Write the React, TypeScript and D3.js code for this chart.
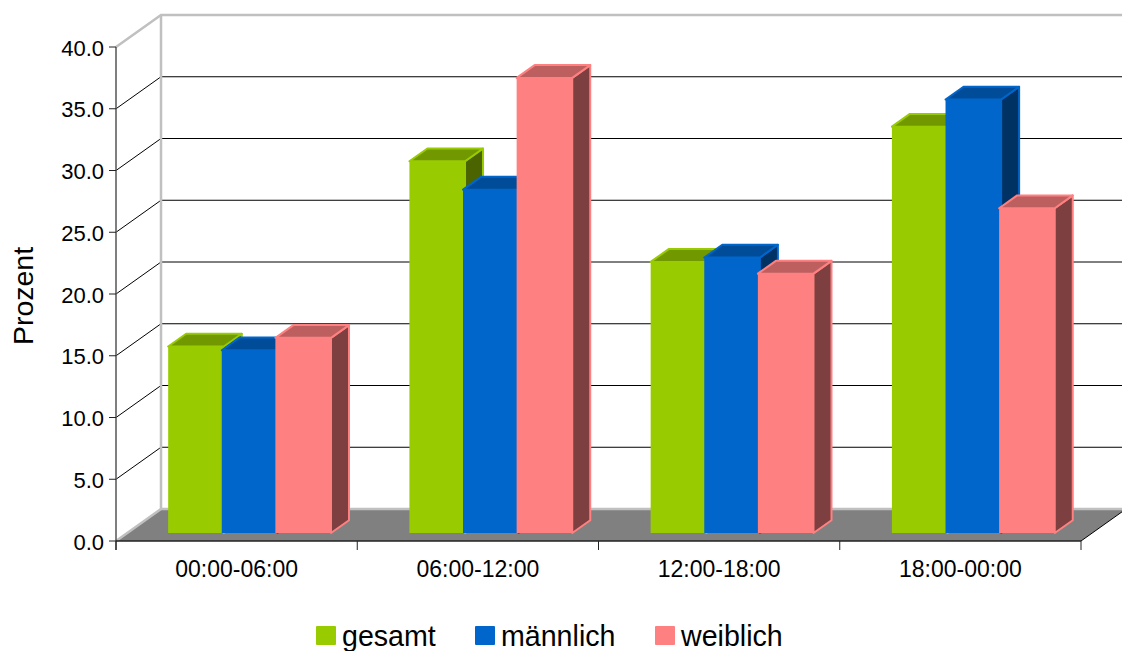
import React from "react";
import * as d3 from "d3";

const categories = ["00:00-06:00", "06:00-12:00", "12:00-18:00", "18:00-00:00"];
const seriesNames = ["gesamt", "männlich", "weiblich"];
const gesamt = [15.1, 30.1, 21.95, 32.9];
const maennlich = [14.8, 27.8, 22.3, 35.1];
const weiblich = [15.8, 36.85, 21.0, 26.3];
const seriesColors = ["#99cc00", "#0066cc", "#ff8080"];
const yTicks = [0, 5, 10, 15, 20, 25, 30, 35, 40];

const seriesValues = [gesamt, maennlich, weiblich];
const FONT = "'Liberation Sans', Arial, sans-serif";

// Oblique projection: depth 0 is the front plane, depth 1 the back wall.
const DEPTH_X = 45;
const DEPTH_Y = -32;
const BAR_NEAR = 0.25;
const BAR_FAR = 0.65;

export default function App() {
  const W = 1122;
  const H = 651;
  const y = d3.scaleLinear().domain([0, 40]).range([541, 47]);
  const x = d3.scaleBand().domain(categories).range([116, 1081]);
  const inner = d3
    .scaleBand()
    .domain(seriesNames)
    .range([0, x.bandwidth()])
    .paddingOuter(0.75)
    .paddingInner(0);

  const project = (px: number, value: number, depth: number): [number, number] => [
    px + DEPTH_X * depth,
    y(value) + DEPTH_Y * depth,
  ];
  const poly = (pts: [number, number][]) => pts.map((p) => p.join(",")).join(" ");

  const right = x.range()[1];
  const backRight = right + DEPTH_X;

  return (
    <svg
      width={W}
      height={H}
      style={{ position: "absolute", left: 0, top: 0, background: "#fff" }}
      fontFamily={FONT}
    >
      {/* floor */}
      <polygon
        points={poly([project(116, 0, 0), project(116, 0, 1), project(right, 0, 1), project(right, 0, 0)])}
        fill="#808080"
      />

      {/* gridlines across the side wall and back wall */}
      {yTicks.slice(1, -1).map((t) => (
        <g key={t} stroke="#000" strokeWidth={1} fill="none">
          <line x1={116} y1={y(t)} x2={116 + DEPTH_X} y2={y(t) + DEPTH_Y} />
          <line x1={116 + DEPTH_X} y1={y(t) + DEPTH_Y} x2={backRight} y2={y(t) + DEPTH_Y} />
        </g>
      ))}

      {/* wall frame */}
      <g stroke="#c0c0c0" strokeWidth={2.5} fill="none">
        <polyline points={poly([project(116, 40, 0), project(116, 40, 1), project(right, 40, 1)])} />
        <line x1={116 + DEPTH_X} y1={y(40) + DEPTH_Y} x2={116 + DEPTH_X} y2={y(0) + DEPTH_Y} />
        <line x1={116 + DEPTH_X} y1={y(0) + DEPTH_Y} x2={backRight} y2={y(0) + DEPTH_Y} />
        <line x1={116} y1={y(0)} x2={116 + DEPTH_X} y2={y(0) + DEPTH_Y} />
      </g>

      {/* bars */}
      {categories.map((c, ci) => (
        <g key={c}>
          {seriesNames.map((s, si) => {
            const v = seriesValues[si][ci];
            const x0 = x(c)! + inner(s)! + DEPTH_X * BAR_NEAR + 0.7;
            const x1 = x0 + inner.bandwidth() + 2;
            const base = d3.color(seriesColors[si])!;
            const topFill = d3.rgb(base).darker(0.83).formatHex();
            const sideFill = d3.rgb(base).darker(2).formatHex();
            const d = BAR_FAR - BAR_NEAR;
            const at = (px: number, val: number, dep: number) =>
              project(px, val, BAR_NEAR + dep * d);
            return (
              <g key={s} stroke={seriesColors[si]} strokeWidth={2} strokeLinejoin="round">
                <polygon
                  points={poly([
                    [x1, at(x1, v, 0)[1]],
                    [x1 + DEPTH_X * d, at(x1, v, 1)[1]],
                    [x1 + DEPTH_X * d, at(x1, 0, 1)[1]],
                    [x1, at(x1, 0, 0)[1]],
                  ])}
                  fill={sideFill}
                />
                <polygon
                  points={poly([
                    [x0, at(x0, v, 0)[1]],
                    [x0 + DEPTH_X * d, at(x0, v, 1)[1]],
                    [x1 + DEPTH_X * d, at(x1, v, 1)[1]],
                    [x1, at(x1, v, 0)[1]],
                  ])}
                  fill={topFill}
                />
                <rect
                  x={x0}
                  y={at(x0, v, 0)[1]}
                  width={x1 - x0}
                  height={at(x0, 0, 0)[1] - at(x0, v, 0)[1]}
                  fill={seriesColors[si]}
                  stroke="none"
                />
              </g>
            );
          })}
        </g>
      ))}

      {/* front axes */}
      <line x1={116} y1={47} x2={116} y2={y(0) + 9} stroke="#555" strokeWidth={1.5} />
      <line x1={116} y1={y(0)} x2={right} y2={y(0)} stroke="#222" strokeWidth={1.5} />
      <line x1={right} y1={y(0)} x2={backRight} y2={y(0) + DEPTH_Y} stroke="#000" strokeWidth={1} />
      {yTicks.map((t) => (
        <g key={t}>
          <line x1={109} y1={y(t)} x2={116} y2={y(t)} stroke="#222" strokeWidth={1} />
          <text x={104} y={y(t) + 8.5} textAnchor="end" fontSize={22} fill="#000">
            {t.toFixed(1)}
          </text>
        </g>
      ))}
      {[...categories.map((c) => x(c)!), right].map((px) => (
        <line key={px} x1={px} y1={y(0)} x2={px} y2={y(0) + 9} stroke="#222" strokeWidth={1} />
      ))}
      {categories.map((c) => (
        <text
          key={c}
          x={x(c)! + x.bandwidth() / 2}
          y={576.5}
          textAnchor="middle"
          fontSize={23}
          fill="#000"
        >
          {c}
        </text>
      ))}

      {/* value axis title */}
      <text
        transform="translate(32.5,296) rotate(-90)"
        textAnchor="middle"
        fontSize={28.5}
        fill="#000"
      >
        Prozent
      </text>

      {/* legend */}
      {seriesNames.map((s, i) => {
        const lx = [316, 475, 655][i];
        return (
          <g key={s}>
            <rect x={lx} y={626} width={20} height={19} rx={1} fill={seriesColors[i]} />
            <text x={lx + 26} y={646} fontSize={28.6} fill="#000">
              {s}
            </text>
          </g>
        );
      })}
    </svg>
  );
}
